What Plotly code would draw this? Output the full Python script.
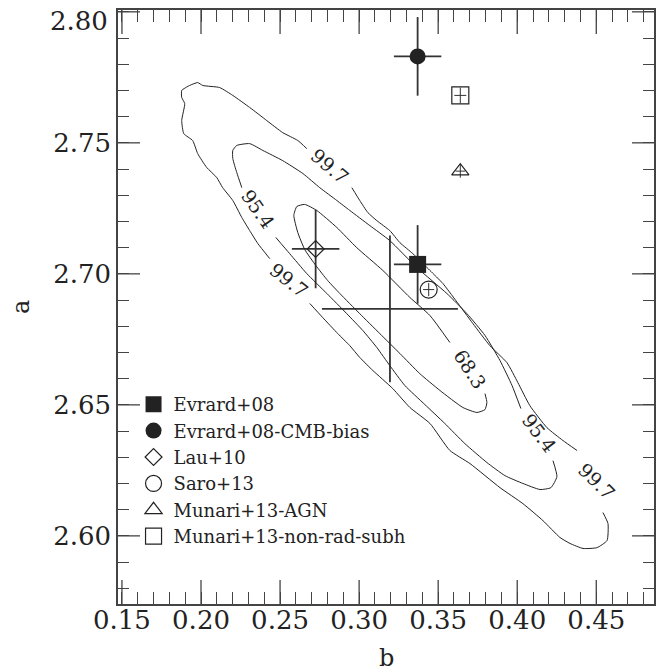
import plotly.graph_objects as go

FONT = "DejaVu Serif"
INK = "#222222"
FRAME = "#444444"

# ---- published (b, a) scaling-relation estimates ----
names = ["Evrard+08", "Evrard+08-CMB-bias", "Lau+10", "Saro+13",
         "Munari+13-AGN", "Munari+13-non-rad-subh"]
b_vals = [0.337, 0.337, 0.2725, 0.344, 0.364, 0.364]
a_vals = [2.7036, 2.783, 2.7095, 2.694, 2.7392, 2.7681]
b_errs = [0.015, 0.015, 0.015, 0.0035, 0.003, 0.0038]
a_errs = [0.015, 0.015, 0.015, 0.0025, 0.0025, 0.003]
symbols = ["square", "circle", "diamond-open", "circle-open",
           "triangle-up-open", "square-open"]
sizes = [17, 16, 13, 17, 15, 17]

# ---- best fit of this analysis (drawn as error bars only) ----
fit_b, fit_a = 0.3195, 2.6866
fit_b_err, fit_a_err = 0.043, 0.028

# ---- confidence contours (b, a), split where the level labels sit ----
c997_seg1_b = [0.2435, 0.2359, 0.2308, 0.2258, 0.2201, 0.2137, 0.2099, 0.2036, 0.1979,
               0.1947, 0.1891, 0.1878, 0.1897, 0.1878, 0.1878, 0.1928, 0.1979, 0.2011,
               0.2118, 0.2201, 0.2308, 0.2416, 0.2517, 0.2612, 0.2669]
c997_seg1_a = [2.7058, 2.7116, 2.7165, 2.7215, 2.7280, 2.7329, 2.7368, 2.7406, 2.7459,
               2.7509, 2.7535, 2.7585, 2.7650, 2.7673, 2.7700, 2.7719, 2.7730, 2.7719,
               2.7711, 2.7681, 2.7635, 2.7585, 2.7539, 2.7509, 2.7478]
c997_seg2_b = [0.2954, 0.3004, 0.3055, 0.3112, 0.3194, 0.3258, 0.3340, 0.3448, 0.3530,
               0.3612, 0.3720, 0.3827, 0.3935, 0.4004, 0.4080, 0.4188, 0.4289, 0.4378]
c997_seg2_a = [2.7329, 2.7280, 2.7234, 2.7203, 2.7165, 2.7119, 2.7077, 2.7013, 2.6963,
               2.6898, 2.6810, 2.6726, 2.6661, 2.6585, 2.6497, 2.6413, 2.6364, 2.6326]
c997_seg3_b = [0.4542, 0.4574, 0.4568, 0.4504, 0.4416, 0.4334, 0.4270, 0.4163, 0.4036,
               0.3891, 0.3701, 0.3574, 0.3448, 0.3321, 0.3213, 0.3087, 0.3004, 0.2941,
               0.2865, 0.2770, 0.2688]
c997_seg3_a = [2.6089, 2.6047, 2.5982, 2.5955, 2.5952, 2.5971, 2.5994, 2.6058, 2.6123,
               2.6184, 2.6276, 2.6326, 2.6429, 2.6490, 2.6562, 2.6631, 2.6681, 2.6726,
               2.6772, 2.6833, 2.6887]

c954_seg1_b = [0.2258, 0.2226, 0.2201, 0.2201, 0.2226, 0.2308, 0.2391, 0.2517, 0.2644,
               0.2751, 0.2859, 0.2941, 0.3068, 0.3194, 0.3365, 0.3555, 0.3682, 0.3796,
               0.3891, 0.3967, 0.4023]
c954_seg1_a = [2.7329, 2.7387, 2.7440, 2.7471, 2.7490, 2.7497, 2.7471, 2.7432, 2.7383,
               2.7329, 2.7280, 2.7242, 2.7184, 2.7127, 2.7024, 2.6925, 2.6848, 2.6765,
               2.6669, 2.6574, 2.6486]
c954_seg2_b = [0.4226, 0.4251, 0.4213, 0.4144, 0.4036, 0.3922, 0.3808, 0.3669, 0.3542,
               0.3416, 0.3289, 0.3194, 0.3112, 0.3023, 0.2922, 0.2796, 0.2669, 0.2561,
               0.2473]
c954_seg2_a = [2.6287, 2.6226, 2.6184, 2.6177, 2.6200, 2.6230, 2.6280, 2.6352, 2.6429,
               2.6501, 2.6574, 2.6650, 2.6719, 2.6784, 2.6848, 2.6925, 2.7001, 2.7077,
               2.7139]

c683_b = [0.3796, 0.3808, 0.3796, 0.3745, 0.3656, 0.3511, 0.3384, 0.3258, 0.3131,
          0.3004, 0.2878, 0.2802, 0.2726, 0.2656, 0.2612, 0.2587, 0.2606, 0.2656,
          0.2732, 0.2859, 0.2985, 0.3150, 0.3321, 0.3448, 0.3574]
c683_a = [2.6543, 2.6509, 2.6482, 2.6471, 2.6490, 2.6555, 2.6619, 2.6696, 2.6772,
          2.6848, 2.6925, 2.6974, 2.7032, 2.7093, 2.7158, 2.7223, 2.7257, 2.7265,
          2.7242, 2.7177, 2.7100, 2.7013, 2.6910, 2.6841, 2.6738]

# contour level labels: text, position, rotation (deg)
label_text = ["99.7", "99.7", "99.7", "95.4", "95.4", "68.3"]
label_b = [0.2815, 0.2556, 0.4503, 0.2361, 0.4139, 0.3701]
label_a = [2.7413, 2.6977, 2.6211, 2.7248, 2.6392, 2.6637]
label_angle = [40, 38, 45, 55, 53, 57]

# axis ticks
b_ticks = [0.15, 0.20, 0.25, 0.30, 0.35, 0.40, 0.45]
a_ticks = [2.60, 2.65, 2.70, 2.75, 2.80]
a_ticktext = ["2.60", "2.65", "2.70", "2.75", ""]   # top label is set just below the frame
a_top_label = "2.80"

B_RANGE = [0.1475, 0.4865]
A_RANGE = [2.574, 2.8007]

# plot-area size in px (for tick lengths given in pixels)
W, H = 668, 671
ML, MR, MT, MB = 118, 14, 10, 67
PW, PH = W - ML - MR, H - MT - MB
MAJOR_X_LEN, MAJOR_Y_LEN = 24, 22

fig = go.Figure()

# contour lines sit on the minor-tick overlay axes (x2/y2)
segments = [
    (c997_seg1_b, c997_seg1_a), (c997_seg2_b, c997_seg2_a), (c997_seg3_b, c997_seg3_a),
    (c954_seg1_b, c954_seg1_a), (c954_seg2_b, c954_seg2_a), (c683_b, c683_a),
]
for xs, ys in segments:
    fig.add_trace(go.Scatter(
        x=xs, y=ys, mode="lines", showlegend=False, hoverinfo="skip",
        xaxis="x2", yaxis="y2",
        line=dict(color=INK, width=1, shape="spline", smoothing=0.5),
    ))

# best-fit cross
fig.add_trace(go.Scatter(
    x=[fit_b], y=[fit_a], mode="markers", showlegend=False,
    marker=dict(size=1, color="rgba(0,0,0,0)"),
    error_x=dict(type="data", array=[fit_b_err], width=0, thickness=1.8, color="#333333"),
    error_y=dict(type="data", array=[fit_a_err], width=0, thickness=1.8, color="#333333"),
))

for name, bx, ay, eb, ea, sym, sz in zip(names, b_vals, a_vals, b_errs, a_errs, symbols, sizes):
    thick = 1.8 if eb > 0.01 else 1.0
    filled = not sym.endswith("-open")
    fig.add_trace(go.Scatter(
        x=[bx], y=[ay], mode="markers", name=name,
        marker=dict(symbol=sym, size=sz, color=INK,
                    line=dict(color=INK, width=0 if filled else 1.2)),
        error_x=dict(type="data", array=[eb], width=0, thickness=thick, color="#333333"),
        error_y=dict(type="data", array=[ea], width=0, thickness=thick, color="#333333"),
    ))

for txt, lb, la, ang in zip(label_text, label_b, label_a, label_angle):
    fig.add_annotation(x=lb, y=la, xref="x", yref="y", text=txt, showarrow=False,
                       textangle=ang, font=dict(family=FONT, size=19, color=INK))

tick_font = dict(family=FONT, size=26, color=INK)

# top y label, nudged below the frame edge
fig.add_annotation(x=-0.015, y=0.9815, xref="paper", yref="paper", text=a_top_label,
                   showarrow=False, xanchor="right", yanchor="middle", font=tick_font)

# axis titles
fig.add_annotation(x=0.5, y=-0.091, xref="paper", yref="paper", text="b",
                   showarrow=False, yanchor="middle",
                   font=dict(family=FONT, size=24, color=INK))
fig.add_annotation(x=-0.181, y=0.5, xref="paper", yref="paper", text="a",
                   showarrow=False, textangle=-90, xanchor="center",
                   font=dict(family=FONT, size=24, color=INK))

# long major ticks on all four sides of the frame
tick_line = dict(color=FRAME, width=1.3)
hx = MAJOR_X_LEN / PH
hy = MAJOR_Y_LEN / PW
for v in b_ticks:
    fig.add_shape(type="line", xref="x", yref="paper", x0=v, x1=v, y0=0, y1=hx,
                  line=tick_line, layer="above")
    fig.add_shape(type="line", xref="x", yref="paper", x0=v, x1=v, y0=1 - hx, y1=1,
                  line=tick_line, layer="above")
for v in a_ticks:
    fig.add_shape(type="line", xref="paper", yref="y", x0=0, x1=hy, y0=v, y1=v,
                  line=tick_line, layer="above")
    fig.add_shape(type="line", xref="paper", yref="y", x0=1 - hy, x1=1, y0=v, y1=v,
                  line=tick_line, layer="above")

base = dict(showgrid=False, zeroline=False, automargin=False,
            tickcolor=FRAME, tickwidth=1.3)

fig.update_layout(
    # frame + tick labels
    xaxis=dict(range=B_RANGE, showline=True, linecolor=FRAME, linewidth=1.5, mirror=True,
               ticks="", tickmode="array", tickvals=b_ticks,
               ticktext=[f"{v:.2f}" for v in b_ticks], tickfont=tick_font,
               ticklabelstandoff=-8, **base),
    yaxis=dict(range=A_RANGE, showline=True, linecolor=FRAME, linewidth=1.5, mirror=True,
               ticks="", tickmode="array", tickvals=a_ticks, ticktext=a_ticktext,
               tickfont=tick_font, **base),
    # minor ticks every 0.01
    xaxis2=dict(range=B_RANGE, overlaying="x", anchor="y2", side="bottom",
                showline=False, mirror="ticks", ticks="inside", ticklen=12,
                tickmode="linear", tick0=0.15, dtick=0.01, showticklabels=False, **base),
    yaxis2=dict(range=A_RANGE, overlaying="y", anchor="x2", side="left",
                showline=False, mirror="ticks", ticks="inside", ticklen=11,
                tickmode="linear", tick0=2.60, dtick=0.01, showticklabels=False, **base),
)

fig.update_layout(
    width=W, height=H,
    margin=dict(l=ML, r=MR, t=MT, b=MB, autoexpand=False),
    plot_bgcolor="white", paper_bgcolor="white",
    legend=dict(x=0.029, y=0.367, xanchor="left", yanchor="top",
                bgcolor="rgba(0,0,0,0)", borderwidth=0,
                font=dict(family=FONT, size=18, color=INK), tracegroupgap=0),
)

fig.write_html("out.html")
